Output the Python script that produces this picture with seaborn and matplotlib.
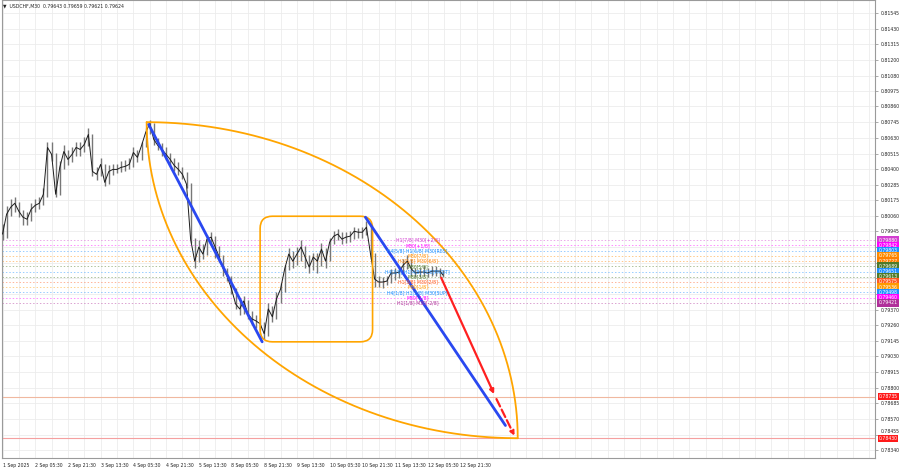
import numpy as np
import pandas as pd
import matplotlib
matplotlib.use("Agg")
import matplotlib.pyplot as plt
import matplotlib.transforms as mtransforms
import seaborn as sns
from matplotlib.patches import FancyBboxPatch

# USDCHF M30, sampled every 4 bars (bar 0 = 1 Sep 13:30)
bars = list(range(0, 432, 4)) + [431]
close = [
    0.79925, 0.80071, 0.80122, 0.80151, 0.80092, 0.80049, 0.80034, 0.80107, 0.80136, 0.80151, 0.80217, 0.80560,
    0.80509, 0.80217, 0.80414, 0.80530, 0.80472, 0.80509, 0.80560, 0.80545, 0.80582, 0.80655, 0.80384, 0.80363,
    0.80436, 0.80304, 0.80384, 0.80399, 0.80399, 0.80414, 0.80421, 0.80436, 0.80523, 0.80487, 0.80574, 0.80669,
    0.80735, 0.80618, 0.80574, 0.80545, 0.80509, 0.80472, 0.80428, 0.80399, 0.80363, 0.80290, 0.79888, 0.79727,
    0.79830, 0.79779, 0.79888, 0.79903, 0.79830, 0.79757, 0.79669, 0.79611, 0.79523, 0.79414, 0.79377, 0.79435,
    0.79341, 0.79304, 0.79289, 0.79268, 0.79195, 0.79377, 0.79319, 0.79450, 0.79523, 0.79669, 0.79779, 0.79727,
    0.79779, 0.79830, 0.79757, 0.79684, 0.79757, 0.79727, 0.79815, 0.79727, 0.79866, 0.79910, 0.79925, 0.79888,
    0.79903, 0.79910, 0.79946, 0.79939, 0.79939, 0.79976, 0.79779, 0.79596, 0.79574, 0.79574, 0.79581, 0.79640,
    0.79640, 0.79647, 0.79698, 0.79727, 0.79669, 0.79640, 0.79647, 0.79647, 0.79640, 0.79654, 0.79654, 0.79654,
    0.79624,
]
high = [
    0.80000, 0.80130, 0.80180, 0.80200, 0.80160, 0.80100, 0.80090, 0.80150, 0.80180, 0.80200, 0.80260, 0.80600,
    0.80600, 0.80520, 0.80460, 0.80580, 0.80540, 0.80560, 0.80600, 0.80600, 0.80640, 0.80700, 0.80660, 0.80420,
    0.80480, 0.80440, 0.80430, 0.80440, 0.80440, 0.80460, 0.80470, 0.80480, 0.80560, 0.80540, 0.80600, 0.80700,
    0.80760, 0.80740, 0.80630, 0.80590, 0.80560, 0.80520, 0.80480, 0.80450, 0.80420, 0.80380, 0.80300, 0.79900,
    0.79880, 0.79850, 0.79920, 0.79940, 0.79910, 0.79840, 0.79770, 0.79680, 0.79620, 0.79530, 0.79440, 0.79470,
    0.79440, 0.79360, 0.79330, 0.79310, 0.79280, 0.79420, 0.79400, 0.79500, 0.79570, 0.79700, 0.79820, 0.79800,
    0.79830, 0.79880, 0.79840, 0.79770, 0.79790, 0.79790, 0.79860, 0.79820, 0.79900, 0.79950, 0.79960, 0.79940,
    0.79940, 0.79950, 0.79980, 0.79970, 0.79980, 0.80020, 0.79990, 0.79790, 0.79620, 0.79610, 0.79620, 0.79670,
    0.79680, 0.79690, 0.79740, 0.79770, 0.79740, 0.79680, 0.79680, 0.79690, 0.79680, 0.79690, 0.79690, 0.79680,
    0.79660,
]
low = [
    0.79880, 0.79900, 0.80060, 0.80090, 0.80050, 0.79990, 0.79990, 0.80020, 0.80090, 0.80110, 0.80140, 0.80200,
    0.80460, 0.80200, 0.80210, 0.80400, 0.80430, 0.80450, 0.80500, 0.80500, 0.80530, 0.80570, 0.80350, 0.80320,
    0.80350, 0.80280, 0.80290, 0.80360, 0.80370, 0.80380, 0.80390, 0.80400, 0.80420, 0.80450, 0.80470, 0.80560,
    0.80660, 0.80580, 0.80540, 0.80500, 0.80470, 0.80430, 0.80390, 0.80360, 0.80330, 0.80260, 0.79860, 0.79680,
    0.79720, 0.79740, 0.79770, 0.79850, 0.79750, 0.79720, 0.79620, 0.79580, 0.79490, 0.79380, 0.79330, 0.79340,
    0.79300, 0.79260, 0.79240, 0.79220, 0.79160, 0.79180, 0.79280, 0.79300, 0.79420, 0.79500, 0.79660, 0.79680,
    0.79700, 0.79730, 0.79680, 0.79640, 0.79660, 0.79640, 0.79690, 0.79680, 0.79730, 0.79850, 0.79880, 0.79850,
    0.79860, 0.79870, 0.79890, 0.79900, 0.79900, 0.79920, 0.79740, 0.79540, 0.79540, 0.79530, 0.79550, 0.79570,
    0.79590, 0.79600, 0.79640, 0.79670, 0.79620, 0.79610, 0.79610, 0.79620, 0.79610, 0.79620, 0.79620, 0.79610,
    0.79610,
]

# Murrey math levels (+2/8 .. -2/8)
mm_levels = [0.79880, 0.79842, 0.79803, 0.79765, 0.79727, 0.79689, 0.79651,
             0.79613, 0.79575, 0.79536, 0.79498, 0.79460, 0.79421]
mm_colors = ["#d23fd0", "#ff00ff", "#1e90ff", "#ff8c00", "#ff8000", "#4f7a28", "#1e90ff",
             "#4f7a28", "#ff5a1f", "#ff9a00", "#1e90ff", "#ff00ff", "#b0309a"]
mm_notes = ["H1[7/8] M30[+2/8]", "M30[+1/8]", "H4[5/8] H1[6/8] M30[RES]", "M30[7/8]",
            "H1[5/8] M30[6/8]", "M30[5/8]", "H4[3/8] H1[4/8] M30[PIVOT]", "M30[3/8]",
            "H1[3/8] M30[2/8]", "M30[1/8]", "H4[1/8] H1[2/8] M30[SUP]", "M30[-1/8]",
            "H1[1/8] M30[-2/8]"]

# target levels
target1 = 0.78735
target2 = 0.78430

# drawing anchors (bar, price)
arc_a = (141, 0.80745)
arc_b = (504, 0.78430)
trend1 = [(143, 0.80728), (254, 0.79136)]
trend2 = [(355, 0.80049), (492, 0.78523)]
box_bars = (252, 362)
box_prices = (0.79136, 0.80056)
arrow_pts = [(428, 0.79624), (482, 0.78735), (502, 0.78430)]

x_tick_bars = list(range(0, 449, 32))
x_tick_labels = ["1 Sep 2025", "2 Sep 05:30", "2 Sep 21:30", "3 Sep 13:30", "4 Sep 05:30",
                 "4 Sep 21:30", "5 Sep 13:30", "8 Sep 05:30", "8 Sep 21:30", "9 Sep 13:30",
                 "10 Sep 05:30", "10 Sep 21:30", "11 Sep 13:30", "12 Sep 05:30", "12 Sep 21:30"]
y_tick_labels = ["0.81545", "0.81430", "0.81315", "0.81200", "0.81080", "0.80975", "0.80860",
                 "0.80745", "0.80630", "0.80515", "0.80400", "0.80285", "0.80175", "0.80060",
                 "0.79945", "0.79830", "0.79715", "0.79600", "0.79485", "0.79370", "0.79260",
                 "0.79145", "0.79030", "0.78915", "0.78800", "0.78685", "0.78570", "0.78455",
                 "0.78340"]
hidden_ticks = {"0.79830", "0.79715", "0.79600", "0.79485"}

sns.set_style("white")
plt.rcParams["font.family"] = ["DejaVu Sans"]

fig = plt.figure(figsize=(9, 4.68), dpi=100)
ax = fig.add_axes([2 / 900, 10 / 468, 873 / 900, 458 / 468])
ax.set_xlim(-0.5, 853.5)
ax.set_ylim(0.78285, 0.81640)

# grid
for b in np.arange(0, 854, 16):
    ax.axvline(b, color="#ececec", lw=0.6, zorder=0)
y_vals = [float(s) for s in y_tick_labels]
for v in y_vals:
    ax.axhline(v, color="#ececec", lw=0.6, zorder=0)

# murrey dotted lines
for lvl, col in zip(mm_levels, mm_colors):
    ax.axhline(lvl, color=col, lw=0.7, ls=(0, (1.5, 2)), alpha=0.45, zorder=1)

ax.axhline(target1, color="#f0b8a0", lw=0.8, zorder=1)
ax.axhline(target2, color="#f5a0a0", lw=0.8, zorder=1)

# price bars
df = pd.DataFrame({"bar": bars, "close": close, "high": high, "low": low})
ax.vlines(df["bar"], df["low"], df["high"], color="#777777", lw=1.0, zorder=2)
sns.lineplot(data=df, x="bar", y="close", estimator=None, color="#1c1c1c", lw=0.7, ax=ax, zorder=3)

# orange arcs
t = np.linspace(0, np.pi / 2, 200)
ax.plot(arc_a[0] + (arc_b[0] - arc_a[0]) * np.cos(t), arc_b[1] + (arc_a[1] - arc_b[1]) * np.sin(t),
        color="#ffa500", lw=1.3, zorder=4)
ax.plot(arc_b[0] - (arc_b[0] - arc_a[0]) * np.cos(t), arc_a[1] - (arc_a[1] - arc_b[1]) * np.sin(t),
        color="#ffa500", lw=1.3, zorder=4)

# rounded box
box = FancyBboxPatch((box_bars[0], box_prices[0]), box_bars[1] - box_bars[0],
                     box_prices[1] - box_prices[0], boxstyle="round,pad=0,rounding_size=12",
                     mutation_aspect=7.5e-5, fc="none", ec="#ffa500", lw=1.2, zorder=4)
ax.add_patch(box)

# trend lines
for seg in (trend1, trend2):
    ax.plot([seg[0][0], seg[1][0]], [seg[0][1], seg[1][1]], color="#2a48f0", lw=2.0, zorder=5)

# red arrows
ax.annotate("", xy=arrow_pts[1], xytext=arrow_pts[0],
            arrowprops=dict(arrowstyle="-|>", color="#ff2020", lw=1.6, mutation_scale=6), zorder=6)
ax.annotate("", xy=arrow_pts[2], xytext=arrow_pts[1],
            arrowprops=dict(arrowstyle="-|>", color="#ff2020", lw=1.6, ls="--", mutation_scale=6), zorder=6)

# murrey notes in the chart
for lvl, col, note in zip(mm_levels, mm_colors, mm_notes):
    ax.text(406, lvl, note, color=col, fontsize=3.3, ha="center", va="center", zorder=7)

# axes / ticks
ax.yaxis.tick_right()
ax.set_yticks(y_vals)
ax.set_yticklabels(["" if s in hidden_ticks else s for s in y_tick_labels], fontsize=3.3, color="#222222")
ax.set_xticks(x_tick_bars)
ax.set_xticklabels(x_tick_labels, fontsize=3.3, ha="left", color="#222222")
ax.tick_params(axis="y", length=2, width=0.5, pad=2, colors="#888888", labelcolor="#222222")
ax.tick_params(axis="x", length=2, width=0.5, pad=1.5, colors="#888888", labelcolor="#222222")
ax.set_xlabel("")
ax.set_ylabel("")
for sp in ax.spines.values():
    sp.set_color("#9a9a9a")
    sp.set_linewidth(0.8)

# nudge the tick label that sits right above the red target label
shift = mtransforms.ScaledTranslation(0, 2.5 / 72, fig.dpi_scale_trans)
for lab in ax.get_yticklabels():
    if lab.get_text() == "0.78455":
        lab.set_transform(lab.get_transform() + shift)

# price labels on the right scale
ytr = ax.get_yaxis_transform()
for lvl, col in zip(mm_levels, mm_colors):
    ax.text(1.004, lvl, f"{lvl:.5f}", transform=ytr, fontsize=3.3, color="white", ha="left", va="center",
            bbox=dict(boxstyle="square,pad=0.3", fc=col, ec="none"), clip_on=False, zorder=8)
for lvl in (target1, target2):
    ax.text(1.004, lvl, f"{lvl:.5f}", transform=ytr, fontsize=3.3, color="white", ha="left", va="center",
            bbox=dict(boxstyle="square,pad=0.2", fc="#ff1a1a", ec="none"), clip_on=False, zorder=8)

fig.text(3 / 900, 1 - 6 / 468, "▼  USDCHF,M30  0.79643 0.79659 0.79621 0.79624", fontsize=3.3,
         color="#222222", va="center", ha="left")

fig.savefig("out.png", dpi=100)
